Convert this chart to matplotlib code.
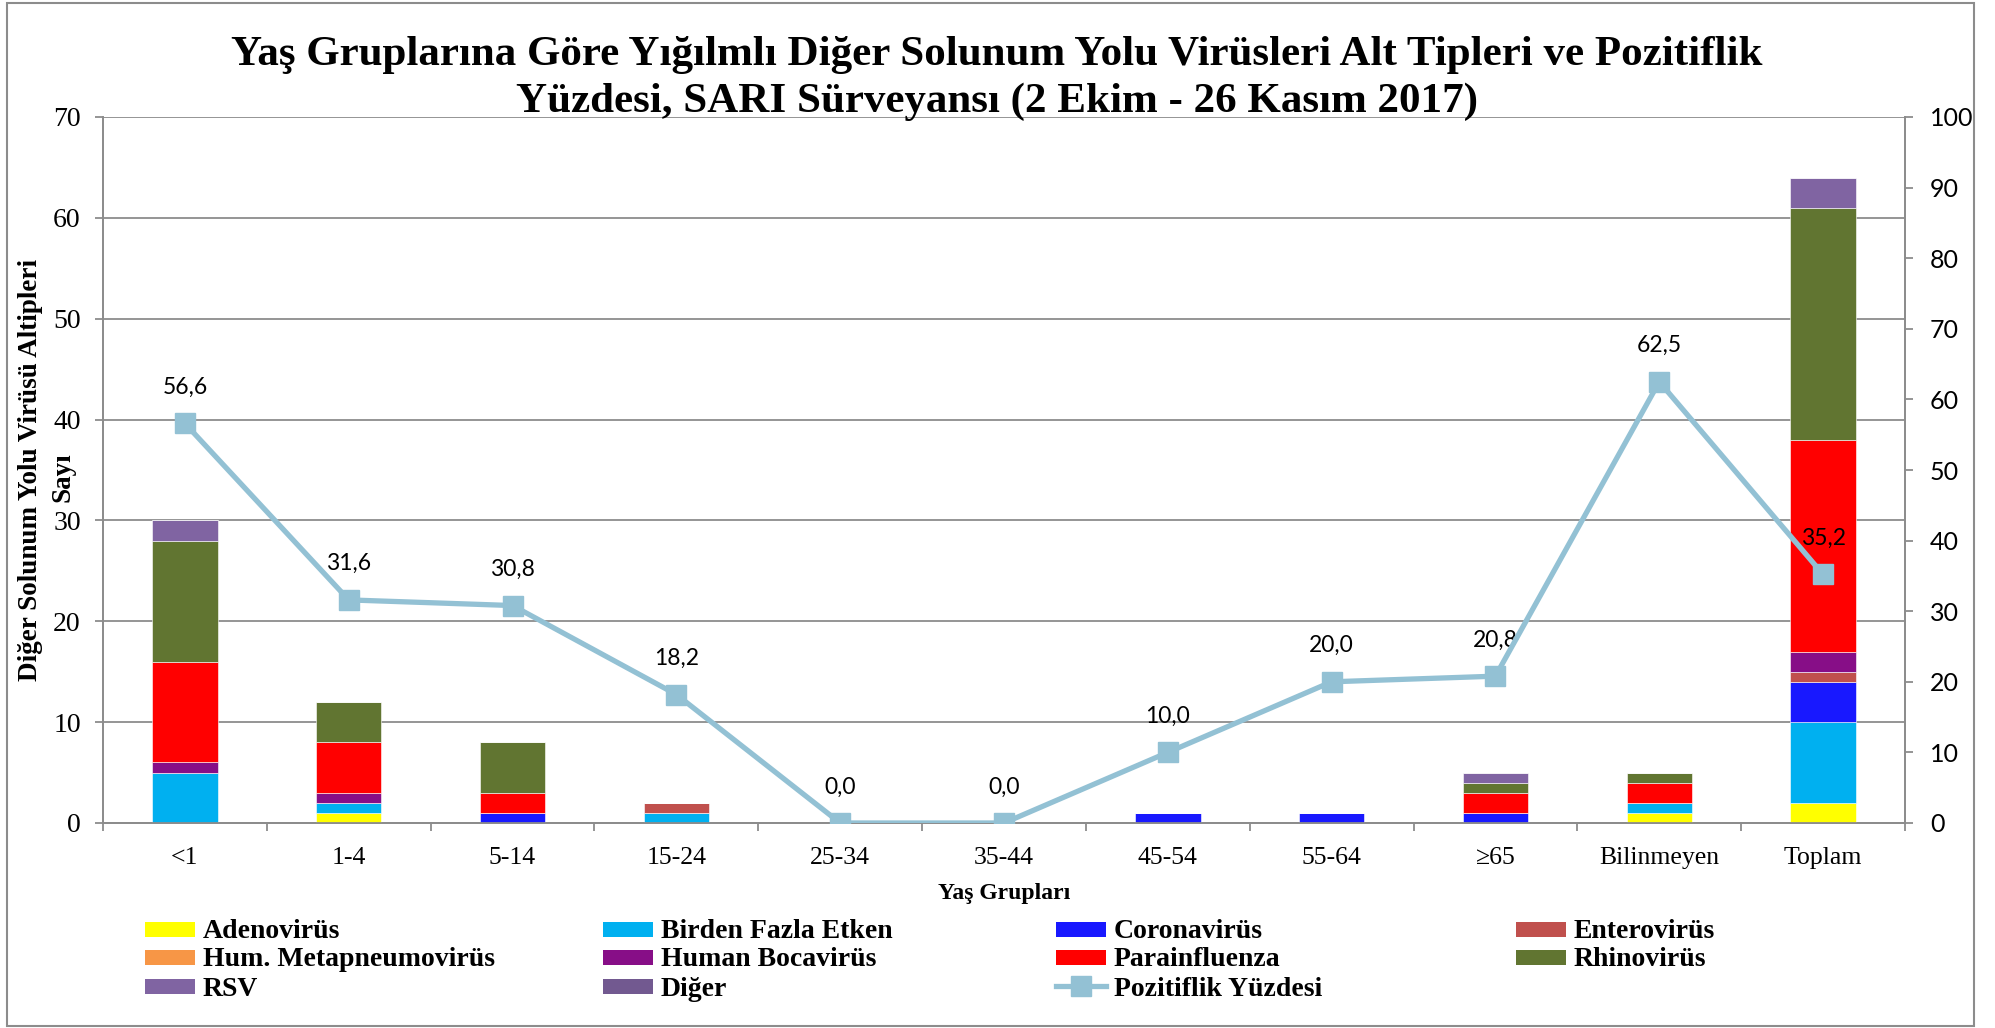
import matplotlib
matplotlib.use("Agg")
import matplotlib.pyplot as plt
from matplotlib.patches import Rectangle
from matplotlib.lines import Line2D
import numpy as np

# -----------------------------------------------------
# Data

groups = ['<1', '1-4', '5-14', '15-24', '25-34', '35-44', '45-54', '55-64', '≥65', 'Bilinmeyen', 'Toplam']

adeno = [0, 1, 0, 0, 0, 0, 0, 0, 0, 1, 2]
birden = [5, 1, 0, 1, 0, 0, 0, 0, 0, 1, 8]
corona = [0, 0, 1, 0, 0, 0, 1, 1, 1, 0, 4]
entero = [0, 0, 0, 1, 0, 0, 0, 0, 0, 0, 1]
hmpv = [0, 0, 0, 0, 0, 0, 0, 0, 0, 0, 0]
boca = [1, 1, 0, 0, 0, 0, 0, 0, 0, 0, 2]
para = [10, 5, 2, 0, 0, 0, 0, 0, 2, 2, 21]
rhino = [12, 4, 5, 0, 0, 0, 0, 0, 1, 1, 23]
rsv = [2, 0, 0, 0, 0, 0, 0, 0, 1, 0, 3]
diger = [0, 0, 0, 0, 0, 0, 0, 0, 0, 0, 0]

pozitiflik = [56.6, 31.6, 30.8, 18.2, 0.0, 0.0, 10.0, 20.0, 20.8, 62.5, 35.2]

seriesNames = ['Adenovirüs', 'Birden Fazla Etken', 'Coronavirüs', 'Enterovirüs',
               'Hum. Metapneumovirüs', 'Human Bocavirüs', 'Parainfluenza', 'Rhinovirüs',
               'RSV', 'Diğer']
seriesValues = [adeno, birden, corona, entero, hmpv, boca, para, rhino, rsv, diger]
seriesColors = ['#FFFF00', '#00B0F0', '#1818FF', '#C0504D', '#F79646',
                '#870E87', '#FF0000', '#617531', '#8064A2', '#725990']
lineName = 'Pozitiflik Yüzdesi'
lineColor = '#93C1D4'
gridColor = '#8C8C8C'

serif = 'Liberation Serif'
sans = 'Lato'

W, H = 1995.0, 1028.0   # figure size in pixels

# -----------------------------------------------------
# Figure and axes

fig = plt.figure(figsize=(W / 100, H / 100), dpi=100)
ax = fig.add_axes([103 / W, 1 - 823 / H, (1905 - 103) / W, (823 - 117) / H])
ax2 = ax.twinx()

x = np.arange(len(groups))
bottom = np.zeros(len(groups))
for name, vals, col in zip(seriesNames, seriesValues, seriesColors):
    vals = np.array(vals, dtype=float)
    ax.bar(x, vals, 0.4, bottom=bottom, color=col, edgecolor='white', linewidth=0.4, zorder=3)
    bottom += vals

ax.set_xlim(-0.5, len(groups) - 0.5)
ax.set_ylim(0, 70)
ax.set_yticks(np.arange(0, 71, 10))
ax.grid(axis='y', color=gridColor, linewidth=1.3, zorder=0)
ax.set_axisbelow(True)

# category labels centered, tick marks between categories
ax.set_xticks(x)
ax.set_xticklabels(groups, fontfamily=serif, fontsize=18.5)
ax.tick_params(axis='x', length=0, pad=17)
ax.set_xticks(np.arange(-0.5, len(groups), 1.0), minor=True)
ax.tick_params(axis='x', which='minor', length=6, width=1.3, color=gridColor, direction='out')
ax.tick_params(axis='y', length=6, width=1.3, color=gridColor, labelsize=20, pad=10)
for lbl in ax.get_yticklabels():
    lbl.set_fontfamily(serif)

for sp in ax.spines.values():
    sp.set_color(gridColor)
    sp.set_linewidth(1.3)
ax.spines['top'].set_visible(False)

# y label: long line as the axis label, second line as its own text
ax.set_ylabel('Diğer Solunum Yolu Virüsü Altipleri', fontfamily=serif,
              fontweight='bold', fontsize=19.5)
ax.yaxis.label.set_va('center')
ax.yaxis.set_label_coords((31 - 103) / 1802, 0.5)
ax.text((63 - 103) / 1802, 0.49, 'Sayı', transform=ax.transAxes, rotation=90,
        ha='center', va='center', fontfamily=serif, fontweight='bold', fontsize=19.5)

ax.set_xlabel('Yaş Grupları', fontfamily=serif, fontweight='bold', fontsize=17, labelpad=10)

# percentage line on right axis
ax2.plot(x, pozitiflik, color=lineColor, linewidth=3.8, marker='s', markersize=14,
         markerfacecolor=lineColor, markeredgecolor=lineColor, zorder=5)
for xi, val in zip(x, pozitiflik):
    ax2.annotate(('%.1f' % val).replace('.', ','), (xi, val), xytext=(0, 26),
                 textcoords='offset points', ha='center', va='center',
                 fontfamily=sans, fontsize=16.5)
ax2.set_ylim(0, 100)
ax2.set_yticks(np.arange(0, 101, 10))
ax2.tick_params(axis='y', length=6, width=1.3, color=gridColor, labelsize=18, pad=12)
for lbl in ax2.get_yticklabels():
    lbl.set_fontfamily(sans)
for sp in ax2.spines.values():
    sp.set_color(gridColor)
    sp.set_linewidth(1.3)
ax2.spines['top'].set_visible(False)

# title
fig.text(0.4998, 0.937, 'Yaş Gruplarına Göre Yığılmlı Diğer Solunum Yolu Virüsleri Alt Tipleri ve Pozitiflik',
         ha='center', va='baseline', fontfamily=serif, fontweight='bold', fontsize=31)
fig.text(0.4998, 0.891, 'Yüzdesi, SARI Sürveyansı (2 Ekim - 26 Kasım 2017)',
         ha='center', va='baseline', fontfamily=serif, fontweight='bold', fontsize=31)

# legend laid out by hand: 4 columns x 3 rows like the original
allLabels = seriesNames + [lineName]
slots = [(0, 0), (1, 0), (2, 0), (3, 0), (0, 1), (1, 1), (2, 1), (3, 1), (0, 2), (1, 2), (2, 2)]
colX = [145, 603, 1056, 1516]
rowY = [929, 957, 986]
swW, swH = 50, 15
for i, (c, r) in enumerate(slots):
    sx, sy = colX[c], rowY[r]
    if i < len(seriesColors):
        fig.patches.append(Rectangle((sx / W, 1 - (sy + swH / 2) / H), swW / W, swH / H,
                                     transform=fig.transFigure, facecolor=seriesColors[i],
                                     edgecolor='none'))
    else:
        fig.add_artist(Line2D([sx / W, (sx + swW) / W], [1 - sy / H, 1 - sy / H],
                              transform=fig.transFigure, color=lineColor, linewidth=3.8))
        fig.add_artist(Line2D([(sx + swW / 2) / W], [1 - sy / H], transform=fig.transFigure,
                              color=lineColor, marker='s', markersize=14))
    fig.text((sx + swW + 8) / W, 1 - sy / H, allLabels[i], ha='left', va='center_baseline',
             fontfamily=serif, fontweight='bold', fontsize=20)

# border around the whole chart
fig.patches.append(Rectangle((0.0035, 0.002), 0.986, 0.995, transform=fig.transFigure,
                             fill=False, edgecolor=gridColor, linewidth=1.5))

fig.savefig('out.png', dpi=100)
